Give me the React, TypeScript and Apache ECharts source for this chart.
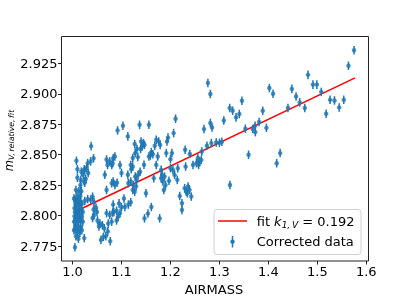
import React, { useEffect, useRef } from "react";
import * as echarts from "echarts";

// Tick values
const airmassTicks = [1.0, 1.1, 1.2, 1.3, 1.4, 1.5, 1.6];
const magTicks = [2.775, 2.8, 2.825, 2.85, 2.875, 2.9, 2.925];

// Corrected data points [AIRMASS, m_V,relative,fit]
const pointsNear100: number[][] = [
  [1.038, 2.857], [1.008, 2.845], [1.010, 2.838], [1.024, 2.838], [1.031, 2.843],
  [1.037, 2.8445], [1.043, 2.847], [1.010, 2.831], [1.007, 2.821], [1.013, 2.820],
  [1.018, 2.820], [1.009, 2.816], [1.016, 2.816], [1.003, 2.814], [1.017, 2.829],
  [1.024, 2.828], [1.016, 2.825], [1.025, 2.827], [1.018, 2.836], [1.025, 2.8375],
  [1.029, 2.839], [1.022, 2.8335], [1.032, 2.835], [1.027, 2.830],
  [1.005, 2.813], [1.009, 2.812], [1.013, 2.813], [1.017, 2.811], [1.006, 2.8095],
  [1.011, 2.809], [1.015, 2.808], [1.019, 2.8095], [1.004, 2.806], [1.008, 2.805],
  [1.013, 2.8045], [1.018, 2.805], [1.005, 2.803], [1.010, 2.802], [1.015, 2.801],
  [1.021, 2.803], [1.004, 2.7995], [1.009, 2.799], [1.014, 2.798], [1.019, 2.799],
  [1.006, 2.796], [1.011, 2.795], [1.016, 2.7955], [1.007, 2.792], [1.012, 2.791],
  [1.017, 2.7905], [1.005, 2.789], [1.010, 2.787], [1.015, 2.786], [1.007, 2.783],
  [1.012, 2.781], [1.005, 2.774], [1.024, 2.7815], [1.003, 2.795], [1.003, 2.788],
  [1.021, 2.795], [1.019, 2.788],
  [1.025, 2.812], [1.031, 2.8135], [1.037, 2.813], [1.041, 2.8155], [1.044, 2.811],
  [1.048, 2.8065], [1.043, 2.805], [1.050, 2.803], [1.044, 2.8005], [1.041, 2.798],
];

const pointsNear110: number[][] = [
  [1.051, 2.796], [1.056, 2.7935], [1.054, 2.791], [1.061, 2.792], [1.065, 2.7895],
  [1.072, 2.787], [1.068, 2.783], [1.063, 2.7825], [1.058, 2.780], [1.077, 2.779],
  [1.0695, 2.846], [1.076, 2.8445], [1.080, 2.8415], [1.083, 2.847], [1.0865, 2.8485],
  [1.082, 2.843], [1.0715, 2.8415], [1.097, 2.8415], [1.100, 2.835], [1.066, 2.8335],
  [1.080, 2.8265], [1.083, 2.828], [1.0865, 2.825], [1.091, 2.827], [1.0695, 2.821],
  [1.119, 2.8415], [1.0695, 2.802], [1.076, 2.8005], [1.082, 2.8025], [1.0845, 2.803],
  [1.090, 2.804], [1.073, 2.7935], [1.080, 2.795], [1.090, 2.796], [1.093, 2.799],
  [1.097, 2.802], [1.083, 2.809], [1.095, 2.810], [1.100, 2.807], [1.105, 2.814],
  [1.107, 2.807], [1.114, 2.809], [1.114, 2.8265], [1.119, 2.828], [1.124, 2.825],
  [1.131, 2.829], [1.134, 2.8335], [1.138, 2.836], [1.113, 2.8335], [1.130, 2.824],
  [1.123, 2.821], [1.127, 2.8195], [1.119, 2.811], [1.128, 2.832],
  [1.127, 2.8587], [1.1315, 2.8546], [1.128, 2.8513], [1.140, 2.8608], [1.145, 2.8595],
  [1.142, 2.8567], [1.147, 2.858], [1.139, 2.8546], [1.123, 2.8472], [1.1335, 2.848],
  [1.146, 2.8417], [1.137, 2.8745], [1.113, 2.865], [1.103, 2.8737], [1.092, 2.8699],
  [1.123, 2.8402], [1.120, 2.8381], [1.150, 2.8183], [1.147, 2.7977],
];

const pointsNear120: number[][] = [
  [1.156, 2.8745], [1.2105, 2.8795], [1.2065, 2.8677], [1.195, 2.864], [1.193, 2.8608],
  [1.171, 2.8622], [1.176, 2.8608], [1.179, 2.858], [1.168, 2.8573], [1.161, 2.8521],
  [1.159, 2.8493], [1.164, 2.8504], [1.156, 2.8485], [1.1915, 2.8513], [1.203, 2.8513],
  [1.200, 2.8463], [1.174, 2.8485], [1.230, 2.854], [1.2395, 2.8505], [1.2745, 2.8573],
  [1.264, 2.8526], [1.2835, 2.8595], [1.2935, 2.860], [1.256, 2.8472], [1.2595, 2.8443],
  [1.253, 2.843], [1.263, 2.8457], [1.2575, 2.8416], [1.231, 2.8402], [1.215, 2.8389],
  [1.200, 2.8389], [1.171, 2.8416], [1.2685, 2.871], [1.2815, 2.876], [1.285, 2.8723],
  [1.2765, 2.9089], [1.2815, 2.8998], [1.300, 2.8597],
  [1.161, 2.807], [1.154, 2.8017], [1.178, 2.7977], [1.166, 2.8307],
  [1.181, 2.8375], [1.183, 2.8334], [1.181, 2.8307], [1.188, 2.832], [1.1845, 2.8279],
  [1.1865, 2.821], [1.190, 2.825], [1.197, 2.8285], [1.205, 2.8375], [1.2085, 2.8334],
  [1.214, 2.8293], [1.219, 2.8161], [1.2235, 2.8101], [1.2235, 2.8046], [1.229, 2.8225],
  [1.232, 2.8197], [1.236, 2.8238], [1.239, 2.8211], [1.2345, 2.8183], [1.2425, 2.8156],
  [1.246, 2.8416],
];

const pointsAbove130: number[][] = [
  [1.305, 2.8606], [1.309, 2.878], [1.3215, 2.8251], [1.3595, 2.8499], [1.424, 2.8513],
  [1.417, 2.843], [1.575, 2.9357], [1.5636, 2.923], [1.481, 2.9155], [1.491, 2.9075],
  [1.499, 2.9075], [1.508, 2.9015], [1.402, 2.9047], [1.4096, 2.900], [1.448, 2.904],
  [1.4566, 2.8978], [1.464, 2.8929], [1.4744, 2.8883], [1.440, 2.8883], [1.518, 2.8836],
  [1.526, 2.895], [1.535, 2.8945], [1.5446, 2.8888], [1.554, 2.895], [1.3885, 2.886],
  [1.396, 2.872], [1.381, 2.8768], [1.3728, 2.8737], [1.368, 2.871], [1.3734, 2.8685],
  [1.353, 2.8713], [1.346, 2.8943], [1.3407, 2.8834], [1.334, 2.8806], [1.327, 2.8861],
  [1.321, 2.8883],
];

const magError = 0.0035;

// Fit line k_{1,V} = 0.192
const fitAirmass = [1.003, 1.577];
const fitMag = [2.8027, 2.913];

const BLUE = "#1f77b4";
const FONT = "DejaVu Sans";

export default function App() {
  const ref = useRef<HTMLDivElement>(null);

  useEffect(() => {
    if (!ref.current) return;
    const chart = echarts.init(ref.current, null, { renderer: "svg" });
    const corrected = [
      ...pointsNear100,
      ...pointsNear110,
      ...pointsNear120,
      ...pointsAbove130,
    ];
    const fitData = fitAirmass.map((x, i) => [x, fitMag[i]]);

    chart.setOption({
      animation: false,
      grid: {
        left: 61.5,
        top: 36.5,
        width: 307,
        height: 224.5,
        show: true,
        borderColor: "#222",
        borderWidth: 1,
        backgroundColor: "transparent",
      },
      xAxis: {
        type: "value",
        min: 0.9775,
        max: 1.6045,
        axisLine: { show: false },
        splitLine: { show: false },
        axisTick: {
          show: true,
          length: 3.5,
          customValues: airmassTicks,
          lineStyle: { color: "#222", width: 1 },
        },
        axisLabel: {
          customValues: airmassTicks,
          formatter: (v: number) => v.toFixed(1),
          fontSize: 13,
          fontFamily: FONT,
          color: "#000",
          margin: 4,
        },
      },
      yAxis: {
        type: "value",
        min: 2.7627,
        max: 2.947,
        axisLine: { show: false },
        splitLine: { show: false },
        axisTick: {
          show: true,
          length: 3.5,
          customValues: magTicks,
          lineStyle: { color: "#222", width: 1 },
        },
        axisLabel: {
          customValues: magTicks,
          formatter: (v: number) => v.toFixed(3),
          fontSize: 13,
          fontFamily: FONT,
          color: "#000",
          margin: 4,
        },
      },
      series: [
        {
          type: "line",
          data: fitData,
          showSymbol: false,
          lineStyle: { color: "#ff0000", width: 1.5 },
          z: 2,
        },
        {
          type: "custom",
          data: corrected,
          z: 3,
          renderItem: (params: any, api: any) => {
            const x = api.value(0);
            const y = api.value(1);
            const p1 = api.coord([x, y - magError]);
            const p2 = api.coord([x, y + magError]);
            return {
              type: "line",
              shape: { x1: p1[0], y1: p1[1], x2: p2[0], y2: p2[1] },
              style: { stroke: BLUE, lineWidth: 1.5 },
            };
          },
        },
        {
          type: "scatter",
          data: corrected,
          symbol: "circle",
          symbolSize: 4.5,
          itemStyle: { color: BLUE },
          z: 4,
        },
      ],
      graphic: [
        {
          type: "text",
          x: 214,
          y: 289,
          style: {
            text: "AIRMASS",
            font: `13px "${FONT}"`,
            fill: "#000",
            align: "center",
            verticalAlign: "middle",
          },
        },
        {
          type: "text",
          x: 9,
          y: 140.5,
          rotation: Math.PI / 2,
          style: {
            text: "{m|m}{s|V,\u2009relative,\u2009fit}",
            align: "center",
            verticalAlign: "middle",
            fill: "#000",
            rich: {
              m: {
                fontSize: 11.5,
                fontStyle: "italic",
                fontFamily: FONT,
                fill: "#000",
                lineHeight: 13,
              },
              s: {
                fontSize: 7.8,
                fontStyle: "italic",
                fontFamily: FONT,
                fill: "#000",
                lineHeight: 13,
                verticalAlign: "bottom",
              },
            },
          },
        },
        {
          type: "rect",
          shape: { x: 214, y: 209.5, width: 147, height: 45, r: 3 },
          style: {
            fill: "rgba(255,255,255,0.8)",
            stroke: "#d0d0d0",
            lineWidth: 1,
          },
          z: 10,
        },
        {
          type: "line",
          shape: { x1: 218, y1: 221, x2: 247, y2: 221 },
          style: { stroke: "#ff0000", lineWidth: 1.5 },
          z: 11,
        },
        {
          type: "line",
          shape: { x1: 232.5, y1: 236, x2: 232.5, y2: 247.5 },
          style: { stroke: BLUE, lineWidth: 1.5 },
          z: 11,
        },
        {
          type: "circle",
          shape: { cx: 232.5, cy: 241.7, r: 2.2 },
          style: { fill: BLUE },
          z: 11,
        },
        {
          type: "text",
          x: 256.7,
          y: 221,
          z: 11,
          style: {
            text: "{n|fit }{i|k}{s|1,\u2009V}{n| = 0.192}",
            verticalAlign: "middle",
            align: "left",
            fill: "#000",
            rich: {
              n: { fontSize: 13, fontFamily: FONT, fill: "#000", lineHeight: 16 },
              i: {
                fontSize: 13,
                fontFamily: FONT,
                fontStyle: "italic",
                fill: "#000",
                lineHeight: 16,
              },
              s: {
                fontSize: 9,
                fontFamily: FONT,
                fontStyle: "italic",
                fill: "#000",
                lineHeight: 16,
                verticalAlign: "bottom",
              },
            },
          },
        },
        {
          type: "text",
          x: 256.7,
          y: 241.7,
          z: 11,
          style: {
            text: "Corrected data",
            font: `13px "${FONT}"`,
            fill: "#000",
            align: "left",
            verticalAlign: "middle",
          },
        },
      ],
    });

    return () => chart.dispose();
  }, []);

  return (
    <div
      ref={ref}
      style={{ position: "fixed", left: 0, top: 0, width: 409, height: 307 }}
    />
  );
}
